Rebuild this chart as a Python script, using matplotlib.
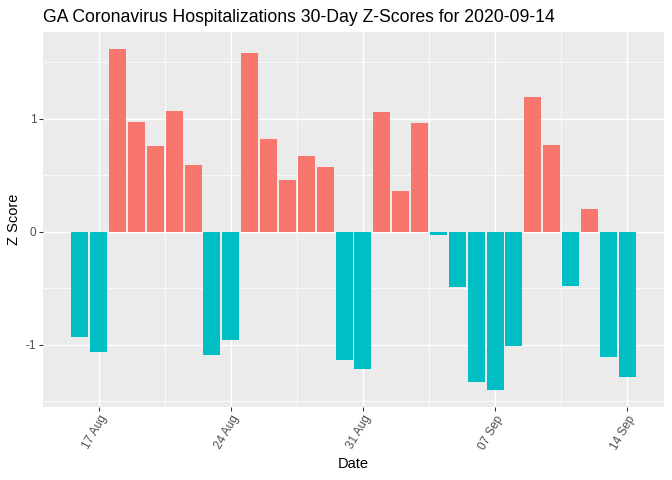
import numpy as np
import matplotlib
matplotlib.use("Agg")
import matplotlib.pyplot as plt
import matplotlib.dates as mdates
import datetime as dt

plt.rcParams['font.family'] = ['Liberation Sans', 'DejaVu Sans']

# data: one z-score per day, 16 Aug .. 14 Sep 2020
start = dt.date(2020, 8, 16)
dates = [start + dt.timedelta(days=i) for i in range(30)]
zscores = [-0.93, -1.07, 1.62, 0.97, 0.76, 1.07, 0.59, -1.09, -0.96,
           1.58, 0.82, 0.46, 0.67, 0.57, -1.14, -1.22, 1.06, 0.36,
           0.96, -0.03, -0.49, -1.33, -1.40, -1.01, 1.19, 0.77, -0.48,
           0.20, -1.11, -1.29]
tick_dates = [dt.date(2020, 8, 17), dt.date(2020, 8, 24), dt.date(2020, 8, 31),
              dt.date(2020, 9, 7), dt.date(2020, 9, 14)]

pos_col = '#F8766D'
neg_col = '#00BFC4'

fig = plt.figure(figsize=(7, 5), dpi=96)
ax = fig.add_axes([43 / 672, 1 - 406.7 / 480, (664 - 43) / 672, (406.7 - 31.7) / 480])
ax.set_facecolor('#EBEBEB')

x = mdates.date2num(dates)
colors = [pos_col if v > 0 else neg_col for v in zscores]
ax.bar(x, zscores, width=0.9, color=colors, zorder=3)

tx = mdates.date2num(tick_dates)
ax.set_xticks(tx)
ax.set_xticklabels([d.strftime('%d %b') for d in tick_dates])
ax.set_xticks(tx[:-1] + 3.5, minor=True)
ax.set_yticks([-1, 0, 1])
ax.set_yticklabels(['-1', '0', '1'])
ax.set_yticks([-1.5, -0.5, 0.5, 1.5], minor=True)

# ggplot-like expansion (5%)
xmin, xmax = x.min() - 0.45, x.max() + 0.45
pad = (xmax - xmin) * 0.05
ax.set_xlim(xmin - pad, xmax + pad)
ymin, ymax = min(zscores), max(zscores)
ypad = (ymax - ymin) * 0.05
ax.set_ylim(ymin - ypad, ymax + ypad)

ax.grid(which='major', color='white', linewidth=1.07, zorder=0)
ax.grid(which='minor', color='white', linewidth=0.53, zorder=0)
ax.set_axisbelow(True)
for s in ax.spines.values():
    s.set_visible(False)

ax.tick_params(which='major', length=2.75, width=0.8, color='#333333',
               labelsize=8.8, labelcolor='#4D4D4D', pad=2.2)
ax.tick_params(which='minor', length=0)
for lab in ax.get_xticklabels():
    lab.set_rotation(60)
    lab.set_rotation_mode('anchor')
    lab.set_ha('right')
    lab.set_va('top')

ax.set_xlabel('Date', fontsize=11, labelpad=4)
ax.set_ylabel('Z Score', fontsize=11)
ax.yaxis.set_label_coords(-0.036, 0.5)
fig.text(43 / 672, 1 - 21.5 / 480, 'GA Coronavirus Hospitalizations 30-Day Z-Scores for 2020-09-14',
         fontsize=13.2, ha='left', va='baseline')

fig.savefig('out.png', dpi=96)
